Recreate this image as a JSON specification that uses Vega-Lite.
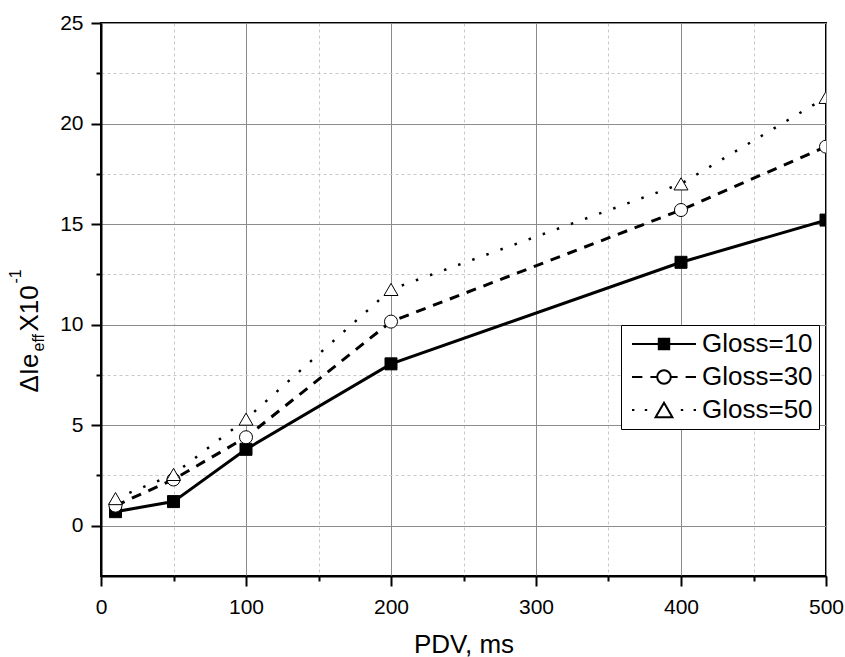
{
  "$schema": "https://vega.github.io/schema/vega-lite/v6.json",
  "width": 725,
  "height": 553,
  "autosize": {"type": "none"},
  "padding": {"left": 101, "top": 23, "right": 19, "bottom": 81},
  "config": {
    "font": "Liberation Sans",
    "view": {"stroke": "#000000", "strokeWidth": 2},
    "axis": {
      "domainColor": "#000000", "domainWidth": 2,
      "tickColor": "#000000", "tickWidth": 2,
      "labelColor": "#000000", "labelFontSize": 21, "labelFont": "Liberation Sans",
      "titleColor": "#000000", "titleFontWeight": "normal", "titleFont": "Liberation Sans",
      "gridColor": "#8c8c8c", "gridWidth": 1,
      "labelFlush": false, "labelOverlap": false
    },
    "legend": {
      "title": null, "orient": "none", "legendX": 520, "legendY": 302,
      "strokeColor": "#000000", "fillColor": "#ffffff", "padding": 6,
      "labelFontSize": 26, "labelColor": "#000000", "labelFont": "Liberation Sans",
      "symbolSize": 256, "labelOffset": 49, "rowPadding": 7,
      "symbolStrokeColor": "#000000", "symbolStrokeWidth": 2, "symbolOpacity": 1
    }
  },
  "data": {
    "values": [
      {"pdv": 10, "gloss": "Gloss=10", "v": 0.7},
      {"pdv": 50, "gloss": "Gloss=10", "v": 1.2},
      {"pdv": 100, "gloss": "Gloss=10", "v": 3.8},
      {"pdv": 200, "gloss": "Gloss=10", "v": 8.05},
      {"pdv": 400, "gloss": "Gloss=10", "v": 13.1},
      {"pdv": 500, "gloss": "Gloss=10", "v": 15.2},
      {"pdv": 10, "gloss": "Gloss=30", "v": 1.0},
      {"pdv": 50, "gloss": "Gloss=30", "v": 2.3},
      {"pdv": 100, "gloss": "Gloss=30", "v": 4.4},
      {"pdv": 200, "gloss": "Gloss=30", "v": 10.15},
      {"pdv": 400, "gloss": "Gloss=30", "v": 15.7},
      {"pdv": 500, "gloss": "Gloss=30", "v": 18.85},
      {"pdv": 10, "gloss": "Gloss=50", "v": 1.35},
      {"pdv": 50, "gloss": "Gloss=50", "v": 2.55},
      {"pdv": 100, "gloss": "Gloss=50", "v": 5.3},
      {"pdv": 200, "gloss": "Gloss=50", "v": 11.75},
      {"pdv": 400, "gloss": "Gloss=50", "v": 17.0},
      {"pdv": 500, "gloss": "Gloss=50", "v": 21.3}
    ]
  },
  "layer": [
    {
      "transform": [{"filter": "datum.gloss === 'Gloss=10'"}],
      "mark": {"type": "line", "stroke": "#000000", "strokeWidth": 3, "clip": true},
      "encoding": {
        "x": {
          "field": "pdv", "type": "quantitative",
          "scale": {"domain": [0, 500], "nice": false, "zero": false},
          "axis": {
            "orient": "bottom", "values": [0, 100, 200, 300, 400, 500],
            "tickSize": 10, "labelPadding": 27, "labelBaseline": "alphabetic",
            "grid": true, "title": "PDV, ms", "titleFontSize": 26,
            "titleY": 76, "titleBaseline": "alphabetic"
          }
        },
        "y": {
          "field": "v", "type": "quantitative",
          "scale": {"domain": [-2.5, 25], "nice": false, "zero": false},
          "axis": {
            "orient": "left", "values": [0, 5, 10, 15, 20, 25],
            "tickSize": 10, "labelPadding": 8, "grid": true,
            "title": "ΔIe", "titleFontSize": 26, "titleAngle": 270,
            "titleAlign": "left", "titleBaseline": "alphabetic",
            "titleX": -64, "titleY": 369
          }
        }
      }
    },
    {
      "transform": [{"filter": "datum.gloss === 'Gloss=30'"}],
      "mark": {"type": "line", "stroke": "#000000", "strokeWidth": 3, "strokeDash": [10, 8], "clip": true},
      "encoding": {
        "x": {
          "field": "pdv", "type": "quantitative",
          "scale": {"domain": [0, 500], "nice": false, "zero": false},
          "axis": {
            "orient": "bottom", "values": [50, 150, 250, 350, 450],
            "tickSize": 5, "labels": false, "domain": false,
            "grid": true, "gridDash": [3, 3], "gridColor": "#c8c8c8", "title": null
          }
        },
        "y": {
          "field": "v", "type": "quantitative",
          "scale": {"domain": [-2.5, 25], "nice": false, "zero": false},
          "axis": {
            "orient": "left", "values": [2.5, 7.5, 12.5, 17.5, 22.5],
            "tickSize": 5, "labels": false, "domain": false,
            "grid": true, "gridDash": [3, 3], "gridColor": "#c8c8c8",
            "title": "eff", "titleFontSize": 16, "titleAngle": 270,
            "titleAlign": "left", "titleBaseline": "alphabetic",
            "titleX": -57.5, "titleY": 328
          }
        }
      }
    },
    {
      "transform": [{"filter": "datum.gloss === 'Gloss=50'"}],
      "mark": {"type": "line", "stroke": "#000000", "strokeWidth": 2.5, "strokeDash": [2.5, 12.5], "clip": true},
      "encoding": {
        "x": {
          "field": "pdv", "type": "quantitative",
          "scale": {"domain": [0, 500], "nice": false, "zero": false},
          "axis": null
        },
        "y": {
          "field": "v", "type": "quantitative",
          "scale": {"domain": [-2.5, 25], "nice": false, "zero": false},
          "axis": {
            "orient": "left", "labels": false, "ticks": false, "domain": false, "grid": false,
            "title": "X10", "titleFontSize": 26, "titleAngle": 270,
            "titleAlign": "left", "titleBaseline": "alphabetic",
            "titleX": -64, "titleY": 308
          }
        }
      }
    },
    {
      "mark": {"type": "point", "filled": true, "stroke": "#000000", "strokeWidth": 1, "opacity": 1, "clip": true},
      "encoding": {
        "x": {
          "field": "pdv", "type": "quantitative",
          "scale": {"domain": [0, 500], "nice": false, "zero": false},
          "axis": null
        },
        "y": {
          "field": "v", "type": "quantitative",
          "scale": {"domain": [-2.5, 25], "nice": false, "zero": false},
          "axis": {
            "orient": "left", "labels": false, "ticks": false, "domain": false, "grid": false,
            "title": "-1", "titleFontSize": 16, "titleAngle": 270,
            "titleAlign": "left", "titleBaseline": "alphabetic",
            "titleX": -81, "titleY": 260
          }
        },
        "shape": {
          "field": "gloss", "type": "nominal",
          "scale": {"domain": ["Gloss=10", "Gloss=30", "Gloss=50"], "range": ["square", "circle", "triangle-up"]},
          "legend": null
        },
        "fill": {
          "field": "gloss", "type": "nominal",
          "scale": {"domain": ["Gloss=10", "Gloss=30", "Gloss=50"], "range": ["#000000", "#ffffff", "#ffffff"]},
          "legend": null
        },
        "size": {
          "field": "gloss", "type": "ordinal",
          "scale": {"domain": ["Gloss=10", "Gloss=30", "Gloss=50"], "range": [144, 196, 289]},
          "legend": null
        }
      }
    },
    {
      "mark": {"type": "point", "filled": true, "strokeWidth": 2, "size": 256, "opacity": 0, "clip": true},
      "encoding": {
        "x": {
          "field": "pdv", "type": "quantitative",
          "scale": {"domain": [0, 500], "nice": false, "zero": false},
          "axis": null
        },
        "y": {
          "field": "v", "type": "quantitative",
          "scale": {"domain": [-2.5, 25], "nice": false, "zero": false},
          "axis": null
        },
        "shape": {
          "field": "gloss", "type": "nominal",
          "scale": {
            "domain": ["Gloss=10", "Gloss=30", "Gloss=50"],
            "range": [
              "M-1,0H7M2.35,-0.65H3.65V0.65H2.35Z",
              "M-1,0H0.3M1.3,0H2.15M2.15,0A0.85,0.85 0 1,1 3.85,0A0.85,0.85 0 1,1 2.15,0ZM3.85,0H4.7M5.7,0H7",
              "M-1,0H-0.7M0.6,0H0.9M5.1,0H5.4M6.7,0H7M3,-0.9L4.05,0.9L1.95,0.9Z"
            ]
          }
        },
        "fill": {
          "field": "gloss", "type": "nominal",
          "scale": {"domain": ["Gloss=10", "Gloss=30", "Gloss=50"], "range": ["#000000", "#ffffff", "#ffffff"]}
        },
        "stroke": {
          "field": "gloss", "type": "nominal",
          "scale": {"domain": ["Gloss=10", "Gloss=30", "Gloss=50"], "range": ["#000000", "#000000", "#000000"]}
        }
      }
    }
  ],
  "resolve": {
    "axis": {"x": "independent", "y": "independent"},
    "scale": {"shape": "independent", "fill": "independent", "stroke": "independent"}
  }
}
